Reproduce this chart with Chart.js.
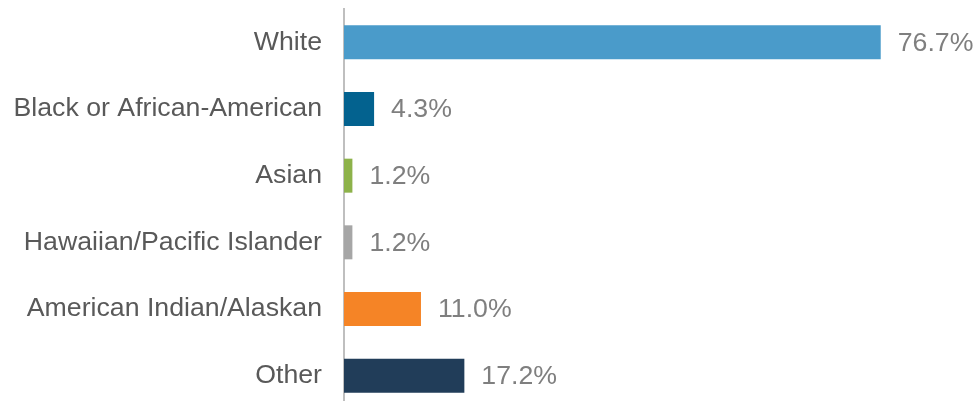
<!DOCTYPE html>
<html>
<head>
<meta charset="utf-8">
<title>Race</title>
<script src="https://cdn.jsdelivr.net/npm/chart.js@4.4.1/dist/chart.umd.min.js"></script>
<style>
  html, body { margin: 0; padding: 0; background: #fff; overflow: hidden; }
  #wrap { width: 974px; height: 410px; }
</style>
</head>
<body>
<div id="wrap"><canvas id="chart" width="974" height="410"></canvas></div>
<script>
// data
const categories = ['White', 'Black or African-American', 'Asian', 'Hawaiian/Pacific Islander', 'American Indian/Alaskan', 'Other'];
const values = [76.7, 4.3, 1.2, 1.2, 11.0, 17.2];
const barColors = ['#4a9bca', '#03628f', '#8db24a', '#a6a6a6', '#f58426', '#213d59'];

const FONT = '"Liberation Sans", Arial, sans-serif';

// value labels after each bar
const valueLabels = {
  id: 'valueLabels',
  afterDatasetsDraw(chart) {
    const { ctx } = chart;
    const meta = chart.getDatasetMeta(0);
    ctx.save();
    ctx.font = `26.7px ${FONT}`;
    ctx.fillStyle = '#7f7f7f';
    ctx.textAlign = 'left';
    ctx.textBaseline = 'middle';
    meta.data.forEach((bar, i) => {
      ctx.fillText(values[i].toFixed(1) + '%', bar.x + 17, bar.y + 1);
    });
    ctx.restore();
  }
};

new Chart(document.getElementById('chart'), {
  type: 'bar',
  data: {
    labels: categories,
    datasets: [{
      data: values,
      backgroundColor: barColors,
      borderWidth: 0,
      categoryPercentage: 1,
      barPercentage: 0.51
    }]
  },
  options: {
    indexAxis: 'y',
    responsive: false,
    animation: false,
    layout: { padding: { top: 9, bottom: 1, left: 0, right: 3 } },
    plugins: {
      legend: { display: false },
      tooltip: { enabled: false }
    },
    scales: {
      x: { display: false, min: 0, max: 89.6 },
      y: {
        afterFit(scale) {
          scale.width = 344;
          scale.paddingTop = 0;
          scale.paddingBottom = 0;
        },
        grid: { display: false, drawTicks: false },
        border: { display: true, color: '#bfbfbf', width: 2 },
        ticks: {
          padding: 22,
          color: '#595959',
          font: { family: FONT, size: 26.7 }
        }
      }
    }
  },
  plugins: [valueLabels]
});
</script>
</body>
</html>
